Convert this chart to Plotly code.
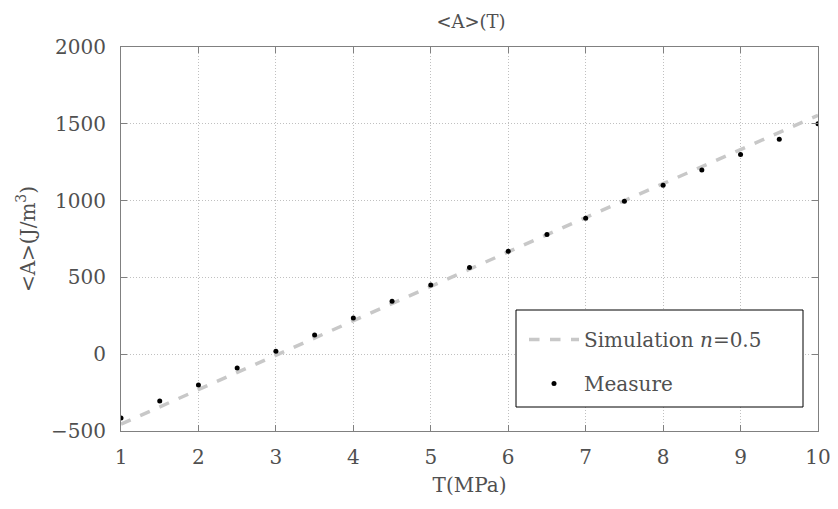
import plotly.graph_objects as go

T_meas = [1, 1.5, 2, 2.5, 3, 3.5, 4, 4.5, 5, 5.5, 6, 6.5, 7, 7.5, 8, 8.5, 9, 9.5, 10]
A_meas = [-415, -305, -200, -90, 20, 125, 235, 345, 450, 565, 670, 780, 885, 995, 1100, 1200, 1300, 1400, 1500]

T_sim = [1, 2, 3, 4, 5, 6, 7, 8, 9, 10]
A_sim = [-455, -230, -8, 215, 440, 665, 890, 1110, 1335, 1555]

x_ticks = [1, 2, 3, 4, 5, 6, 7, 8, 9, 10]
y_ticks = [-500, 0, 500, 1000, 1500, 2000]
y_ticktext = ["\u2212500", "0", "500", "1000", "1500", "2000"]

FONT = "DejaVu Serif, Liberation Serif, serif"
TXT = "#505050"

# page body has an 8px margin; plot area target: x 121..818, y 47..431 (page px)
W, H = 826, 493
ML, MT = 121 - 8, 47 - 8
MR = 8 + W - 818
MB = 8 + H - 431
PW, PH = 818 - 121, 431 - 47

def px_x(p):
    return (p - 121) / PW

def px_y(p):
    return (431 - p) / PH

fig = go.Figure()
fig.add_trace(go.Scatter(
    x=T_sim, y=A_sim, mode="lines", name="Simulation <i>n</i>=0.5",
    legendgroup="sim",
    line=dict(color="#c8c8c8", width=3.5, dash="dash"),
))
fig.add_trace(go.Scatter(
    x=T_meas, y=A_meas, mode="markers", name="Measure",
    legendgroup="meas",
    marker=dict(color="black", size=5, symbol="circle"),
))

# legend frame
fig.add_shape(type="rect", xref="paper", yref="paper",
              x0=px_x(516), x1=px_x(803), y0=px_y(407), y1=px_y(310),
              line=dict(color="black", width=1), fillcolor="white", layer="above")

fig.update_layout(
    width=W, height=H,
    margin=dict(l=ML, r=MR, t=MT, b=MB, autoexpand=False),
    paper_bgcolor="white", plot_bgcolor="white",
    font=dict(family=FONT, color=TXT, size=18),
    title=dict(text="&lt;A&gt;(T)", x=px_x(471), xref="paper", xanchor="center",
               y=1 - (22 - 8) / H, yref="container", yanchor="middle",
               font=dict(size=18, color=TXT, family=FONT)),
    showlegend=True,
    legend=dict(
        x=px_x(524), y=px_y(320), xanchor="left", yanchor="top",
        bgcolor="rgba(0,0,0,0)", borderwidth=0,
        font=dict(size=20, color=TXT, family=FONT),
        tracegroupgap=15, itemwidth=50,
    ),
)
axis_common = dict(
    showgrid=True, gridcolor="#c0c0c0", griddash="1px,2px", gridwidth=1,
    showline=True, linecolor="#808080", linewidth=1, mirror="ticks",
    ticks="inside", ticklen=6, tickcolor="#808080",
    zeroline=False,
    ticklabeloverflow="allow",
    tickfont=dict(size=20, color=TXT, family=FONT),
)
fig.update_xaxes(
    range=[1, 10], tickvals=x_ticks, ticktext=[str(v) for v in x_ticks],
    ticklabelstandoff=8,
    title=dict(text="T(MPa)", font=dict(size=20, color=TXT, family=FONT), standoff=9),
    **axis_common,
)
fig.update_yaxes(
    range=[-500, 2000], tickvals=y_ticks, ticktext=y_ticktext,
    ticklabelstandoff=10,
    title=dict(text="&lt;A&gt;(J/m<sup>3</sup>)", font=dict(size=20, color=TXT, family=FONT), standoff=10),
    **axis_common,
)

fig.write_html("out.html")
